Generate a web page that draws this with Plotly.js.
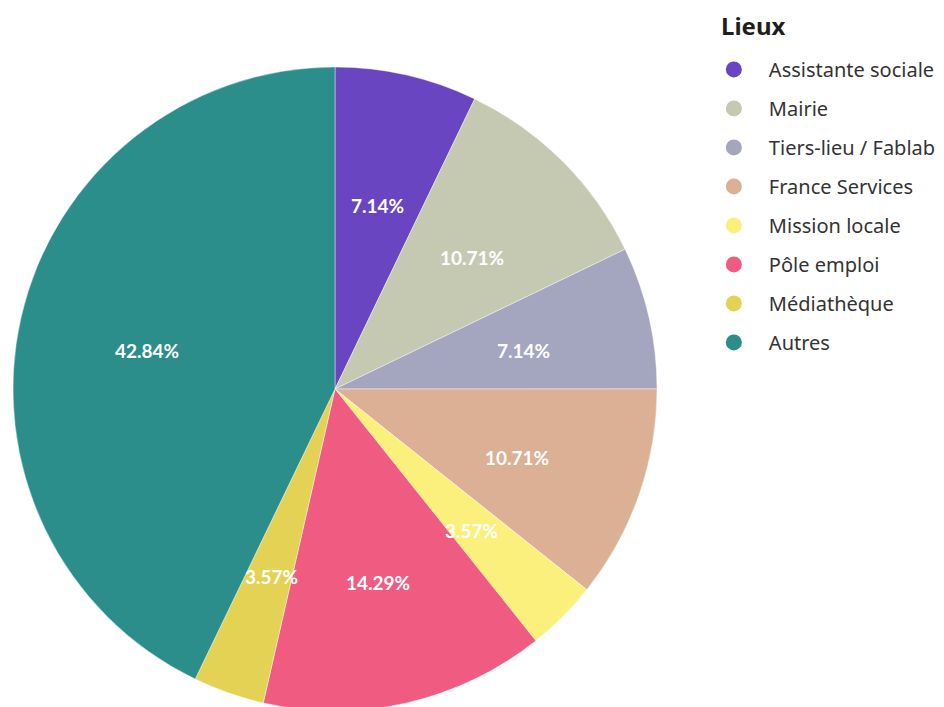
<!DOCTYPE html>
<html><head><meta charset="utf-8">
<script src="https://cdn.plot.ly/plotly-3.0.1.min.js"></script>
<style>html,body{margin:0;padding:0;overflow:hidden;background:#fff}</style>
</head><body><div id="chart"></div>
<script>
const labels = ["Assistante sociale","Mairie","Tiers-lieu / Fablab","France Services","Mission locale","Pôle emploi","Médiathèque","Autres"];
const values = [7.14,10.71,7.14,10.71,3.57,14.29,3.57,42.84];
const colors = ["#6a45c1","#c6c9b1","#a4a5bf","#dbb094","#fcf07c","#ef5b81","#e3d254","#2b8e8b"];
const legendTitle = "Lieux";

const total = values.reduce((a,b)=>a+b,0);
let cum = 0;
const mids = values.map(v => { const m = (cum + v/2)/total*2*Math.PI; cum += v; return m; });
const labelR = 0.6;

const traces = [{
  type:'pie', labels, values, sort:false, direction:'clockwise', rotation:0,
  marker:{colors, line:{color:'rgba(255,255,255,0.7)', width:0.6}},
  textinfo:'none', hoverinfo:'label+value', showlegend:false,
  domain:{x:[0,1],y:[0,1]}
}];
labels.forEach((l,i)=>traces.push({
  type:'scatterpolar', mode:'markers', r:[null], theta:[null], name:l,
  marker:{color:colors[i], size:18, symbol:'circle'}, subplot:'polar', legendgroup:'g'+i
}));

const annotations = values.map((v,i)=>({
  xref:'paper', yref:'paper',
  x: 0.5 + 0.5*labelR*Math.sin(mids[i]),
  y: 0.5 + 0.5*labelR*Math.cos(mids[i]),
  yshift:-5,
  text: v.toFixed(2)+'%', showarrow:false, xanchor:'center', yanchor:'middle',
  font:{family:'Lato, "Noto Sans", sans-serif', size:19, color:'#ffffff', weight:'bold'}
}));
annotations.push({
  xref:'paper', yref:'paper', x:1.097, y:1.065, xanchor:'left', yanchor:'middle',
  text:legendTitle, showarrow:false,
  font:{family:'"Noto Sans", sans-serif', size:24, color:'#1e1e1e', weight:'bold'}
});

const layout = {
  width:944, height:711,
  margin:{l:13, r:287, t:67, b:0},
  paper_bgcolor:'#fff',
  polar:{domain:{x:[0,1],y:[0,1]}, bgcolor:'rgba(0,0,0,0)',
    radialaxis:{visible:false, range:[0,1]},
    angularaxis:{visible:false, rotation:90, direction:'clockwise'}},
  showlegend:true,
  annotations,
  legend:{x:1.065, xanchor:'left', y:1.0265, yanchor:'top',
    font:{family:'"Noto Sans", sans-serif', size:20, color:'#333333'},
    traceorder:'grouped', tracegroupgap:10, itemsizing:'trace', itemwidth:60}
};
Plotly.newPlot('chart', traces, layout, {displayModeBar:false, staticPlot:true});
</script></body></html>
